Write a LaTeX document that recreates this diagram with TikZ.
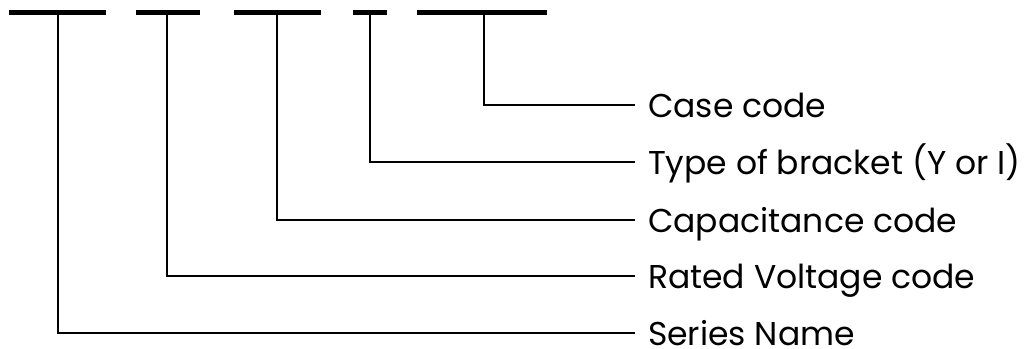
\documentclass[tikz,border=0pt]{standalone}
\usepackage{fontspec}
\setmainfont{Poppins}
\usetikzlibrary{positioning}

\tikzset{
  segbar/.style={line width=5pt},
  lbl/.style={anchor=west, inner xsep=12pt, inner ysep=0pt, text height=24pt, text depth=0pt,
    font=\fontsize{33}{33}\selectfont}
}

\begin{document}
\begin{tikzpicture}[x=1pt, y=-1pt, line width=2.2pt]
\useasboundingbox (0,0) rectangle (1025,348);
% segments of the part number
\draw [segbar] (9,12) -- (106,12);
\draw [segbar] (136,12) -- (200,12);
\draw [segbar] (234,12) -- (321,12);
\draw [segbar] (353,12) -- (387,12);
\draw [segbar] (417,12) -- (547,12);
\coordinate (s1) at (58,12);
\coordinate (s2) at (167,12);
\coordinate (s3) at (277,12);
\coordinate (s4) at (370,12);
\coordinate (s5) at (484,12);
% labels
\node [lbl] (case) at (635,105) {Case code};
\node [lbl] (bracket) at (635,162) {Type of bracket (Y or I)};
\node [lbl] (cap) at (635,220) {Capacitance code};
\node [lbl] (volt) at (635,276) {Rated Voltage code};
\node [lbl] (series) at (635,333) {Series Name};
% leaders
\draw (s5) |- (case.west);
\draw (s4) |- (bracket.west);
\draw (s3) |- (cap.west);
\draw (s2) |- (volt.west);
\draw (s1) |- (series.west);
\end{tikzpicture}
\end{document}
